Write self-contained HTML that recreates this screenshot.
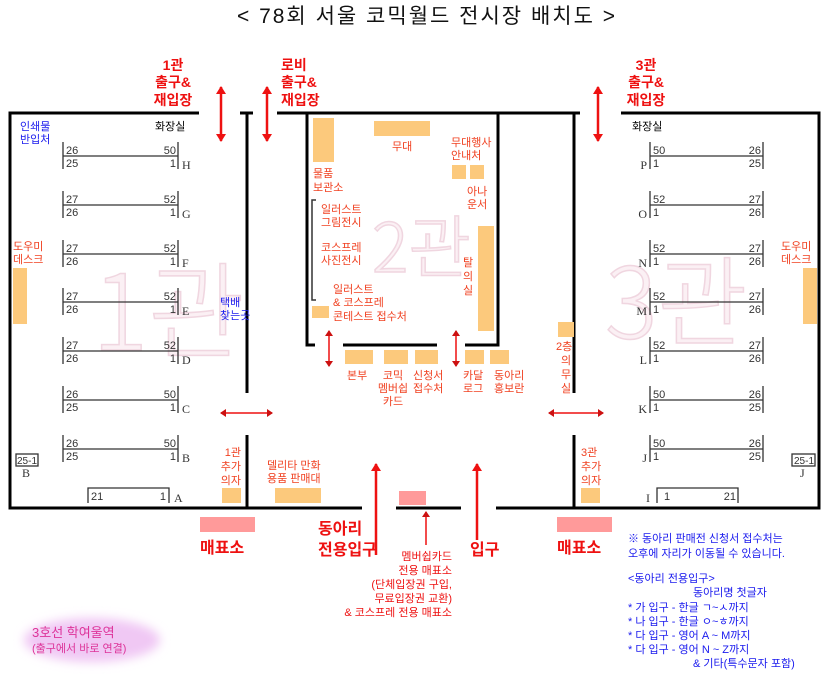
<!DOCTYPE html>
<html><head><meta charset="utf-8"><style>
html,body{margin:0;padding:0;background:#fff;}
svg{display:block;font-family:"Liberation Sans","Noto Sans CJK KR",sans-serif;}
.o{fill:#f04020;font-size:11px;}
.b{fill:#1a1aee;font-size:11px;}
.k{fill:#000;font-size:11px;}
.n{fill:#333;font-size:11px;}
.L{fill:#333;font-size:12px;font-family:"Liberation Serif",serif;}
.r{fill:#ee1111;font-size:14px;font-weight:bold;}
.wm{fill:#fbf0f4;stroke:#f0d6e0;stroke-width:1.5;font-family:"Noto Sans CJK KR",sans-serif;font-weight:300;}
</style></head><body>
<svg width="835" height="680" viewBox="0 0 835 680" xmlns="http://www.w3.org/2000/svg">
<defs>
<marker id="ah" markerWidth="8" markerHeight="10" refX="7" refY="5" orient="auto-start-reverse" markerUnits="userSpaceOnUse"><path d="M0,0 L8,5 L0,10 z" fill="#ee1111"/></marker>
<marker id="ah2" markerWidth="6" markerHeight="8" refX="5" refY="4" orient="auto-start-reverse" markerUnits="userSpaceOnUse"><path d="M0,0 L6,4 L0,8 z" fill="#cc1111"/></marker>
<filter id="glow" x="-30%" y="-60%" width="160%" height="220%"><feGaussianBlur stdDeviation="5"/></filter>
</defs>

<text x="427" y="23" text-anchor="middle" style="font-size:21px;letter-spacing:2px" fill="#111">&lt; 78회 서울 코믹월드 전시장 배치도 &gt;</text>

<text class="wm" x="92" y="350" style="font-size:105px">1관</text>
<text class="wm" x="372" y="272" style="font-size:68px">2관</text>
<text class="wm" x="605" y="338" style="font-size:98px">3관</text>

<g stroke="#000" stroke-width="3" fill="none">
<path d="M199,113 H10 V508 H362"/>
<path d="M396,508 H461"/>
<path d="M496,508 H819 V113 H621"/>
<path d="M240,113 H253 M247,113 V393 M247,435 V508"/>
<path d="M277,113 H580 M574,113 V393 M574,435 V508"/>
<path d="M315,345 H307 V113 M343,345 H437 M465,345 H498 V113"/>
</g>
<path d="M316,200 H312 V300 H316" stroke="#333" stroke-width="1.5" fill="none"/>

<g fill="#fcc97c">
<rect x="13" y="268" width="14" height="56"/>
<rect x="222" y="488" width="19" height="15"/>
<rect x="275" y="488" width="46" height="15"/>
<rect x="313" y="118" width="21" height="44"/>
<rect x="374" y="121" width="56" height="15"/>
<rect x="452" y="165" width="14" height="14"/>
<rect x="470" y="165" width="14" height="14"/>
<rect x="478" y="226" width="16" height="105"/>
<rect x="312" y="306" width="17" height="12"/>
<rect x="345" y="350" width="28" height="14"/>
<rect x="384" y="350" width="24" height="14"/>
<rect x="415" y="350" width="23" height="14"/>
<rect x="465" y="350" width="19" height="14"/>
<rect x="490" y="350" width="19" height="14"/>
<rect x="558" y="322" width="16" height="15"/>
<rect x="803" y="268" width="14" height="56"/>
<rect x="581" y="488" width="19" height="15"/>
</g>
<g fill="#ff9a9a">
<rect x="200" y="517" width="55" height="15"/>
<rect x="557" y="517" width="55" height="15"/>
<rect x="399" y="491" width="27" height="14"/>
</g>

<g stroke="#ee1111" stroke-width="2.5" fill="none">
<line x1="221" y1="87" x2="221" y2="141" marker-start="url(#ah)" marker-end="url(#ah)"/>
<line x1="267" y1="87" x2="267" y2="141" marker-start="url(#ah)" marker-end="url(#ah)"/>
<line x1="598" y1="87" x2="598" y2="141" marker-start="url(#ah)" marker-end="url(#ah)"/>
<line x1="376" y1="555" x2="376" y2="464" marker-end="url(#ah)"/>
<line x1="477" y1="540" x2="477" y2="464" marker-end="url(#ah)"/>
</g>
<g stroke="#ee1111" stroke-width="1.5" fill="none">
<line x1="221" y1="413" x2="272" y2="413" marker-start="url(#ah2)" marker-end="url(#ah2)"/>
<line x1="549" y1="413" x2="603" y2="413" marker-start="url(#ah2)" marker-end="url(#ah2)"/>
<line x1="329" y1="331" x2="329" y2="366" marker-start="url(#ah2)" marker-end="url(#ah2)"/>
<line x1="456" y1="331" x2="456" y2="366" marker-start="url(#ah2)" marker-end="url(#ah2)"/>
<line x1="426" y1="545" x2="426" y2="512" marker-end="url(#ah2)"/>
</g>

<g class="r">
<text x="173" y="70" text-anchor="middle">1관</text>
<text x="173" y="87" text-anchor="middle">출구&amp;</text>
<text x="173" y="105" text-anchor="middle">재입장</text>
<text x="281" y="70">로비</text>
<text x="281" y="87">출구&amp;</text>
<text x="281" y="105">재입장</text>
<text x="646" y="70" text-anchor="middle">3관</text>
<text x="646" y="87" text-anchor="middle">출구&amp;</text>
<text x="646" y="105" text-anchor="middle">재입장</text>
</g>

<g stroke="#333" stroke-width="1.3">
<path d="M63,142V169M178,142V169M63,156H178"/>
<path d="M63,191V218M178,191V218M63,205H178"/>
<path d="M63,240V267M178,240V267M63,254H178"/>
<path d="M63,288V315M178,288V315M63,302H178"/>
<path d="M63,337V364M178,337V364M63,351H178"/>
<path d="M63,386V413M178,386V413M63,400H178"/>
<path d="M63,435V462M178,435V462M63,449H178"/>
<path d="M650,142V169M763,142V169M650,156H763"/>
<path d="M650,191V218M763,191V218M650,205H763"/>
<path d="M650,240V267M763,240V267M650,254H763"/>
<path d="M650,288V315M763,288V315M650,302H763"/>
<path d="M650,337V364M763,337V364M650,351H763"/>
<path d="M650,386V413M763,386V413M650,400H763"/>
<path d="M650,435V462M763,435V462M650,449H763"/>
<path d="M88,503V488H169V503M657,503V488H738V503" fill="none"/>
</g>
<rect x="16" y="454" width="22" height="12" fill="none" stroke="#333" stroke-width="1.3"/>
<rect x="792" y="454" width="23" height="12" fill="none" stroke="#333" stroke-width="1.3"/>
<g fill="#333" style="font-size:10px"><text x="17" y="464">25-1</text><text x="794" y="464">25-1</text></g>
<g class="n">
<text x="66" y="154">26</text><text x="176" y="154" text-anchor="end">50</text><text x="66" y="167">25</text><text x="176" y="167" text-anchor="end">1</text>
<text x="66" y="203">27</text><text x="176" y="203" text-anchor="end">52</text><text x="66" y="216">26</text><text x="176" y="216" text-anchor="end">1</text>
<text x="66" y="252">27</text><text x="176" y="252" text-anchor="end">52</text><text x="66" y="265">26</text><text x="176" y="265" text-anchor="end">1</text>
<text x="66" y="300">27</text><text x="176" y="300" text-anchor="end">52</text><text x="66" y="313">26</text><text x="176" y="313" text-anchor="end">1</text>
<text x="66" y="349">27</text><text x="176" y="349" text-anchor="end">52</text><text x="66" y="362">26</text><text x="176" y="362" text-anchor="end">1</text>
<text x="66" y="398">26</text><text x="176" y="398" text-anchor="end">50</text><text x="66" y="411">25</text><text x="176" y="411" text-anchor="end">1</text>
<text x="66" y="447">26</text><text x="176" y="447" text-anchor="end">50</text><text x="66" y="460">25</text><text x="176" y="460" text-anchor="end">1</text>
<text x="91" y="500">21</text><text x="166" y="500" text-anchor="end">1</text>
<text x="653" y="154">50</text><text x="761" y="154" text-anchor="end">26</text><text x="653" y="167">1</text><text x="761" y="167" text-anchor="end">25</text>
<text x="653" y="203">52</text><text x="761" y="203" text-anchor="end">27</text><text x="653" y="216">1</text><text x="761" y="216" text-anchor="end">26</text>
<text x="653" y="252">52</text><text x="761" y="252" text-anchor="end">27</text><text x="653" y="265">1</text><text x="761" y="265" text-anchor="end">26</text>
<text x="653" y="300">52</text><text x="761" y="300" text-anchor="end">27</text><text x="653" y="313">1</text><text x="761" y="313" text-anchor="end">26</text>
<text x="653" y="349">52</text><text x="761" y="349" text-anchor="end">27</text><text x="653" y="362">1</text><text x="761" y="362" text-anchor="end">26</text>
<text x="653" y="398">50</text><text x="761" y="398" text-anchor="end">26</text><text x="653" y="411">1</text><text x="761" y="411" text-anchor="end">25</text>
<text x="653" y="447">50</text><text x="761" y="447" text-anchor="end">26</text><text x="653" y="460">1</text><text x="761" y="460" text-anchor="end">25</text>
<text x="664" y="500">1</text><text x="736" y="500" text-anchor="end">21</text>
</g>
<g class="L">
<text x="182" y="169">H</text><text x="182" y="218">G</text><text x="182" y="267">F</text><text x="182" y="315">E</text><text x="182" y="364">D</text><text x="182" y="413">C</text><text x="182" y="462">B</text><text x="174" y="502">A</text><text x="22" y="477">B</text>
<text x="647" y="169" text-anchor="end">P</text><text x="647" y="218" text-anchor="end">O</text><text x="647" y="267" text-anchor="end">N</text><text x="647" y="315" text-anchor="end">M</text><text x="647" y="364" text-anchor="end">L</text><text x="647" y="413" text-anchor="end">K</text><text x="647" y="462" text-anchor="end">J</text><text x="650" y="502" text-anchor="end">I</text><text x="800" y="477">J</text>
</g>

<g class="k"><text x="155" y="130">화장실</text><text x="632" y="130">화장실</text></g>
<g class="b"><text x="20" y="130">인쇄물</text><text x="20" y="143">반입처</text><text x="220" y="306">택배</text><text x="220" y="319">찾는곳</text></g>
<g class="o">
<text x="13" y="250">도우미</text><text x="13" y="263">데스크</text>
<text x="781" y="250">도우미</text><text x="781" y="263">데스크</text>
<text x="241" y="456" text-anchor="end">1관</text><text x="241" y="470" text-anchor="end">추가</text><text x="241" y="484" text-anchor="end">의자</text>
<text x="581" y="456">3관</text><text x="581" y="470">추가</text><text x="581" y="484">의자</text>
<text x="267" y="469">델리타 만화</text><text x="267" y="482">용품 판매대</text>
<text x="392" y="150">무대</text>
<text x="451" y="146">무대행사</text><text x="451" y="159">안내처</text>
<text x="313" y="177">물품</text><text x="313" y="191">보관소</text>
<text x="467" y="195">아나</text><text x="467" y="208">운서</text>
<text x="321" y="213">일러스트</text><text x="321" y="226">그림전시</text>
<text x="321" y="251">코스프레</text><text x="321" y="264">사진전시</text>
<text x="463" y="266">탈</text><text x="463" y="280">의</text><text x="463" y="294">실</text>
<text x="333" y="293">일러스트</text><text x="333" y="306">&amp; 코스프레</text><text x="333" y="320">콘테스트 접수처</text>
<text x="347" y="379">본부</text>
<text x="393" y="379" text-anchor="middle">코믹</text><text x="393" y="392" text-anchor="middle">멤버쉽</text><text x="393" y="405" text-anchor="middle">카드</text>
<text x="413" y="379">신청서</text><text x="413" y="392">접수처</text>
<text x="463" y="379">카달</text><text x="463" y="392">로그</text>
<text x="494" y="379">동아리</text><text x="494" y="392">홍보란</text>
<text x="556" y="350">2층</text><text x="561" y="364">의</text><text x="561" y="378">무</text><text x="561" y="392">실</text>
</g>

<g class="r" style="font-size:16px">
<text x="200" y="553">매표소</text>
<text x="318" y="534">동아리</text><text x="318" y="555">전용입구</text>
<text x="470" y="555">입구</text>
<text x="557" y="553">매표소</text>
</g>
<g fill="#ee1111" style="font-size:11px" text-anchor="end">
<text x="452" y="560">멤버쉽카드</text>
<text x="452" y="574">전용 매표소</text>
<text x="452" y="588">(단체입장권 구입,</text>
<text x="452" y="602">무료입장권 교환)</text>
<text x="452" y="616">&amp; 코스프레 전용 매표소</text>
</g>
<g class="b">
<text x="628" y="542">※ 동아리 판매전 신청서 접수처는</text>
<text x="628" y="557">오후에 자리가 이동될 수 있습니다.</text>
<text x="628" y="582">&lt;동아리 전용입구&gt;</text>
<text x="693" y="596">동아리명 첫글자</text>
<text x="628" y="611">* 가 입구 - 한글  ㄱ~ㅅ까지</text>
<text x="628" y="625">* 나 입구 - 한글  ㅇ~ㅎ까지</text>
<text x="628" y="639">* 다 입구 - 영어  A ~ M까지</text>
<text x="628" y="653">* 다 입구 - 영어  N ~ Z까지</text>
<text x="693" y="667">&amp; 기타(특수문자 포함)</text>
</g>
<ellipse cx="92" cy="640" rx="68" ry="22" fill="#f0c8f4" filter="url(#glow)"/>
<text x="32" y="637" fill="#dd3399" style="font-size:13px">3호선 학여울역</text>
<text x="32" y="652" fill="#dd3399" style="font-size:11px">(출구에서 바로 연결)</text>
</svg>
</body></html>
